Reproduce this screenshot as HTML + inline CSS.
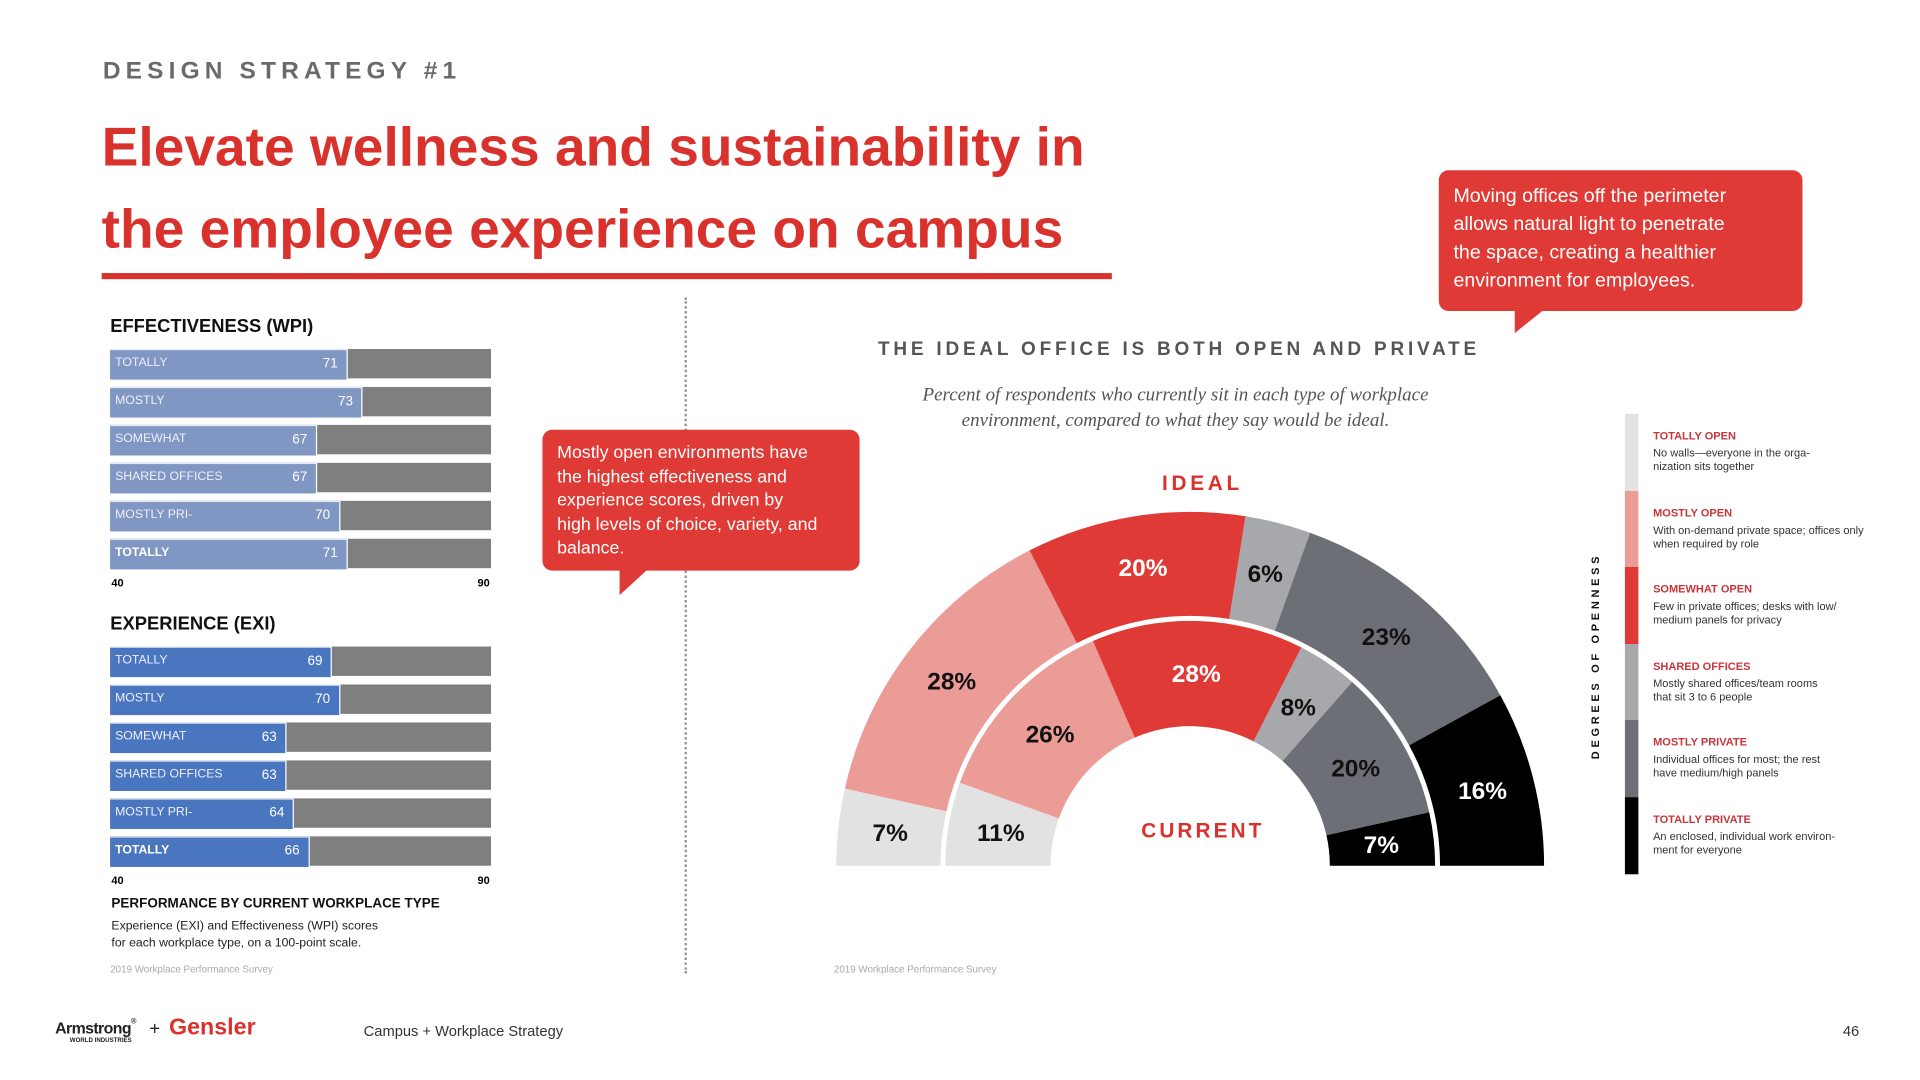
<!DOCTYPE html>
<html><head><meta charset="utf-8">
<style>
html,body{margin:0;padding:0;background:#fff;overflow:hidden}
body{width:1920px;height:1080px;position:relative}
#s{position:absolute;left:0;top:0;width:1568px;height:882px;transform:scale(1.2245);transform-origin:0 0;font-family:"Liberation Sans",sans-serif}
.a{position:absolute;white-space:nowrap}
.lg-t{color:#c7363b;font-weight:bold;font-size:9px}
.lg-d{color:#333;font-size:9px;line-height:11px}
</style></head><body>
<div id="s">
<div class="a" style="left:84px;top:47px;font-size:20px;font-weight:bold;letter-spacing:4.2px;color:#6a6a6a">DESIGN STRATEGY #1</div>
<div class="a" style="left:83px;top:86px;font-size:45px;font-weight:bold;color:#d9322d;line-height:67px">Elevate wellness and sustainability in<br>the employee experience on campus</div>
<div class="a" style="left:83px;top:223px;width:825px;height:5px;background:#d9322d"></div>

<div class="a" style="left:90px;top:258px;font-size:15px;font-weight:bold;color:#111">EFFECTIVENESS (WPI)</div>
<div class="a" style="left:90px;top:501px;font-size:15px;font-weight:bold;color:#111">EXPERIENCE (EXI)</div>
<div class="a" style="left:91px;top:471px;font-size:9px;font-weight:bold">40</div>
<div class="a" style="left:390px;top:471px;font-size:9px;font-weight:bold">90</div>
<div class="a" style="left:91px;top:714px;font-size:9px;font-weight:bold">40</div>
<div class="a" style="left:390px;top:714px;font-size:9px;font-weight:bold">90</div>
<div id="bars"></div>
<div class="a" style="left:91px;top:732px;font-size:11px;font-weight:bold;color:#111">PERFORMANCE BY CURRENT WORKPLACE TYPE</div>
<div class="a" style="left:91px;top:750px;font-size:10px;line-height:14px;color:#222">Experience (EXI) and Effectiveness (WPI) scores<br>for each workplace type, on a 100-point scale.</div>
<div class="a" style="left:90px;top:787px;font-size:8px;color:#aaa">2019 Workplace Performance Survey</div>
<div class="a" style="left:681px;top:787px;font-size:8px;color:#aaa">2019 Workplace Performance Survey</div>
<div class="a" style="left:559px;top:243px;height:552px;border-left:2px dotted #999"></div>

<div class="a" style="left:443px;top:351px;width:235px;height:95px;padding:10px 12px 10px 12px;background:#df3a35;border-radius:8px;color:#fff;font-size:14.5px;line-height:19.5px">Mostly open environments have<br>the highest effectiveness and<br>experience scores, driven by<br>high levels of choice, variety, and<br>balance.</div>
<svg class="a" style="left:500px;top:464px" width="40" height="24"><polygon points="6,0 30,0 6,22" fill="#df3a35"/></svg>
<div class="a" style="left:1175px;top:139px;width:273px;height:95px;padding:10px 12px;background:#df3a35;border-radius:8px;color:#fff;font-size:16px;line-height:23px">Moving offices off the perimeter<br>allows natural light to penetrate<br>the space, creating a healthier<br>environment for employees.</div>
<svg class="a" style="left:1232px;top:252px" width="40" height="24"><polygon points="5,0 30,0 5,20" fill="#df3a35"/></svg>

<div class="a" style="left:717px;top:277px;font-size:15.5px;font-weight:bold;letter-spacing:3.1px;color:#555">THE IDEAL OFFICE IS BOTH OPEN AND PRIVATE</div>
<div class="a" style="left:700px;top:312px;width:520px;text-align:center;font-family:'Liberation Serif',serif;font-style:italic;font-size:15.5px;line-height:21px;color:#555">Percent of respondents who currently sit in each type of workplace<br>environment, compared to what they say would be ideal.</div>
<div class="a" style="left:949px;top:385px;font-size:17px;font-weight:bold;letter-spacing:3px;color:#d9322d">IDEAL</div>
<div class="a" style="left:932px;top:669px;font-size:17px;font-weight:bold;letter-spacing:2.5px;color:#d9322d">CURRENT</div>
<svg id="donut" class="a" style="left:0;top:0" width="1568" height="882"></svg>

<div class="a" style="left:1298px;top:620px;transform:rotate(-90deg);transform-origin:0 0;font-size:9px;font-weight:bold;letter-spacing:3px;color:#111">DEGREES OF OPENNESS</div>
<div id="legend"></div>

<div class="a" style="left:45px;top:832px;font-size:13px;font-weight:bold;color:#222;letter-spacing:-0.5px">Armstrong<span style="font-size:6px;vertical-align:top">®</span><div style="font-size:5px;letter-spacing:0;margin-left:12px">WORLD INDUSTRIES</div></div>
<div class="a" style="left:122px;top:832px;font-size:15px;color:#222">+</div>
<div class="a" style="left:138px;top:829px;font-size:19px;font-weight:bold;color:#d9322d">Gensler</div>
<div class="a" style="left:297px;top:835px;font-size:12px;color:#333">Campus + Workplace Strategy</div>
<div class="a" style="left:1505px;top:835px;font-size:12px;color:#333">46</div>
</div>
<script>
const rowLabels=["TOTALLY","MOSTLY","SOMEWHAT","SHARED OFFICES","MOSTLY PRI-","TOTALLY"];
const wpiValues=[71,73,67,67,70,71];
const exiValues=[69,70,63,63,64,66];
const axisMin=40, axisMax=90;
const idealValues=[7,28,20,6,23,16];
const currentValues=[11,26,28,8,20,7];
const segColors=["#e2e2e3","#eb9c97","#df3a35","#a6a8ab","#6c7076","#000000"];
const labelColors=["#111","#111","#fff","#111","#111","#fff"];
const legendTitles=["TOTALLY OPEN","MOSTLY OPEN","SOMEWHAT OPEN","SHARED OFFICES","MOSTLY PRIVATE","TOTALLY PRIVATE"];
const legendDescs=["No walls—everyone in the orga-<br>nization sits together","With on-demand private space; offices only<br>when required by role","Few in private offices; desks with low/<br>medium panels for privacy","Mostly shared offices/team rooms<br>that sit 3 to 6 people","Individual offices for most; the rest<br>have medium/high panels","An enclosed, individual work environ-<br>ment for everyone"];

const x0=90,x1=401;
function xs(v){return x0+(v-axisMin)/(axisMax-axisMin)*(x1-x0);}
const bars=document.getElementById('bars');
function drawBars(vals,top,color,key){
  vals.forEach((v,i)=>{
    const y=top+i*31;
    const bg=document.createElement('div');bg.className='a';
    
    
    bg.style.cssText=`left:${x0}px;top:${y}px;width:${x1-x0}px;height:24px;background:#7f7f7f`;
    bars.appendChild(bg);
    const b=document.createElement('div');b.className='a';
    
    
    b.style.cssText=`left:${x0}px;top:${y}px;width:${xs(v)-x0}px;height:24px;background:${color};border-right:1px solid #fff;border-top:1px solid #e6e9f0`;
    bars.appendChild(b);
    const l=document.createElement('div');l.className='a';
    
    
    l.style.cssText=`left:94px;top:${y+6}px;font-size:10px;color:#eef;${i==5?'font-weight:bold;color:#fff':''}`;
    l.textContent=rowLabels[i];bars.appendChild(l);
    const n=document.createElement('div');n.className='a';
    
    
    n.style.cssText=`left:${xs(v)-25}px;top:${y+6}px;font-size:11px;color:#fff;width:18px;text-align:right`;
    n.textContent=v;bars.appendChild(n);
  });
}
drawBars(wpiValues,285,"#7f97c2","wpi");
drawBars(exiValues,528,"#4a76c0","exi");

const NS="http://www.w3.org/2000/svg";
const svg=document.getElementById('donut');
const cx=972,cy=707;
function pt(r,f){const a=Math.PI*(1-f);return [cx+r*Math.cos(a),cy-r*Math.sin(a)];}
function ring(vals,ri,ro,key,fs){
  const tot=vals.reduce((a,b)=>a+b,0);let c=0;
  vals.forEach((v,i)=>{
    const f0=c/tot,f1=(c+v)/tot;c+=v;
    const [ax,ay]=pt(ro,f0),[bx,by]=pt(ro,f1),[dx,dy]=pt(ri,f1),[ex,ey]=pt(ri,f0);
    const p=document.createElementNS(NS,'path');
    
    
    p.setAttribute('d',`M${ax},${ay}A${ro},${ro} 0 0 1 ${bx},${by}L${dx},${dy}A${ri},${ri} 0 0 0 ${ex},${ey}Z`);
    p.setAttribute('fill',segColors[i]);
    svg.appendChild(p);
    const [tx,ty]=pt((ri+ro)/2,(f0+f1)/2);
    const t=document.createElementNS(NS,'text');
    
    
    t.setAttribute('x',tx);t.setAttribute('y',ty+7);
    t.setAttribute('text-anchor','middle');
    t.setAttribute('font-family','Liberation Sans Narrow, Liberation Sans, sans-serif');
    t.setAttribute('font-weight','bold');t.setAttribute('font-size',fs);
    t.setAttribute('fill',labelColors[i]);
    t.textContent=v+'%';svg.appendChild(t);
  });
}
ring(idealValues,204,289,'ideal',20);
ring(currentValues,114,200,'current',20);

const lg=document.getElementById('legend');
legendTitles.forEach((tt,i)=>{
  const y=338+i*62.5;
  const s=document.createElement('div');s.className='a';
  
  
  s.style.cssText=`left:1327px;top:${y}px;width:11px;height:63px;background:${segColors[i]}`;
  lg.appendChild(s);
  const t=document.createElement('div');t.className='a lg-t';
  
  
  t.style.left='1350px';t.style.top=(y+13)+'px';t.textContent=tt;lg.appendChild(t);
  const d=document.createElement('div');d.className='a lg-d';
  
  
  d.style.left='1350px';d.style.top=(y+27)+'px';d.innerHTML=legendDescs[i];lg.appendChild(d);
});
</script>
</body></html>
